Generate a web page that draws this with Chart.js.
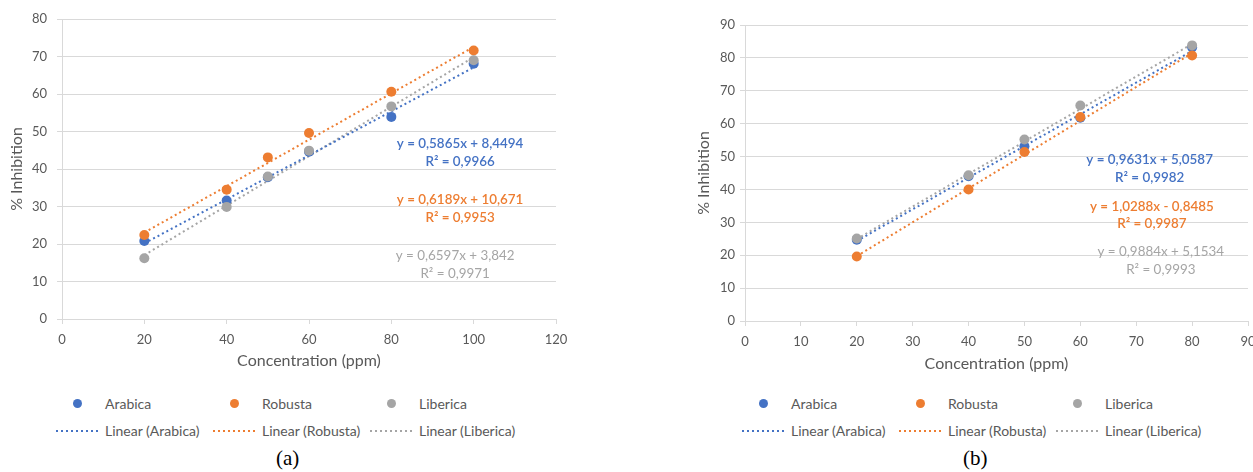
<!DOCTYPE html>
<html>
<head>
<meta charset="utf-8">
<script src="https://cdn.jsdelivr.net/npm/chart.js@4"></script>
<style>
  html, body { margin: 0; padding: 0; background: #fff; overflow: hidden; }
  body { width: 1253px; height: 472px; position: relative; font-family: Lato, sans-serif; }
  .box { position: absolute; top: 0; }
  .legend { position: absolute; color: #595959; font-size: 14px; }
  .row { display: flex; height: 27px; align-items: center; }
  .cell { display: flex; align-items: center; width: 157px; }
  .swatch { width: 43px; margin-right: 6px; display: flex; justify-content: center; align-items: center; }
  .dot { width: 9px; height: 9px; border-radius: 50%; }
  .dash { width: 43px; height: 2px; }
  .caption { position: absolute; top: 446px; font-family: "Liberation Serif", serif; font-size: 21px; color: #000; }
</style>
</head>
<body>
<div class="box" style="left:0"><canvas id="chartA"></canvas></div>
<div class="box" style="left:630px"><canvas id="chartB"></canvas></div>
<div class="legend" id="legendA" style="left:56px; top:390px"></div>
<div class="legend" id="legendB" style="left:742px; top:390px"></div>
<div class="caption" style="left:276px">(a)</div>
<div class="caption" style="left:963px">(b)</div>
<script>
// series names and colours
let names = ["Arabica", "Robusta", "Liberica"];
let colors = ["#4472C4", "#ED7D31", "#A5A5A5"];

// chart (a)
let concA = [20, 40, 50, 60, 80, 100];
let arabicaA = [20.8, 31.6, 37.8, 44.6, 53.9, 68.1];
let robustaA = [22.4, 34.5, 43.1, 49.6, 60.6, 71.6];
let libericaA = [16.2, 29.9, 38.0, 44.9, 56.7, 69.0];
let slopeA = [0.5865, 0.6189, 0.6597];
let interceptA = [8.4494, 10.671, 3.842];
let r2A = ["0,9966", "0,9953", "0,9971"];

// chart (b)
let concB = [20, 40, 50, 60, 80];
let arabicaB = [24.7, 44.0, 53.1, 61.8, 83.2];
let robustaB = [19.6, 40.0, 51.4, 62.0, 80.7];
let libericaB = [25.1, 44.3, 55.2, 65.5, 83.8];
let slopeB = [0.9631, 1.0288, 0.9884];
let interceptB = [5.0587, -0.8485, 5.1534];
let r2B = ["0,9982", "0,9987", "0,9993"];

function fmt(v) {
	return String(v).replace(".", ",");
}

function equation(s, b) {
	return "y = " + fmt(s) + "x " + (b < 0 ? "- " : "+ ") + fmt(Math.abs(b));
}

function points(xs, ys) {
	return xs.map(function(x, i) { return { x: x, y: ys[i] }; });
}

// draws the trendline equations at given spots (data units)
const eqPlugin = {
	id: "eqLabels",
	afterDatasetsDraw(chart, args, opts) {
		const ctx = chart.ctx;
		const xs = chart.scales.x, ys = chart.scales.y;
		ctx.save();
		ctx.textAlign = "center";
		ctx.textBaseline = "middle";
		opts.items.forEach(function(it) {
			ctx.fillStyle = it.color;
			ctx.font = (it.bold ? "600 " : "") + "13.4px Lato";
			ctx.fillText(it.lines[0], xs.getPixelForValue(it.x), ys.getPixelForValue(it.y1));
			ctx.fillText(it.lines[1], xs.getPixelForValue(it.x), ys.getPixelForValue(it.y2));
		});
		ctx.restore();
	}
};

function makeChart(id, w, h, conc, series, slope, intercept, r2, xmax, ymax, xstep, labelPos, lay) {
	const canvas = document.getElementById(id);
	canvas.width = w; canvas.height = h;
	canvas.style.width = w + "px"; canvas.style.height = h + "px";
	let datasets = [];
	series.forEach(function(ys, i) {
		datasets.push({
			type: "scatter",
			label: names[i],
			data: points(conc, ys),
			backgroundColor: colors[i],
			borderColor: colors[i],
			pointRadius: 5,
			pointHoverRadius: 5,
			borderWidth: 0,
			order: 3 - i
		});
	});
	series.forEach(function(ys, i) {
		const x0 = conc[0], x1 = conc[conc.length - 1];
		datasets.push({
			type: "line",
			label: "Linear (" + names[i] + ")",
			data: [{ x: x0, y: slope[i] * x0 + intercept[i] }, { x: x1, y: slope[i] * x1 + intercept[i] }],
			borderColor: colors[i],
			borderWidth: 2,
			borderDash: [2, 3],
			pointRadius: 0,
			fill: false,
			order: 10
		});
	});
	const items = labelPos.map(function(p, i) {
		return {
			x: p[0], y1: p[1], y2: p[2], color: colors[i], bold: i < 2,
			lines: [equation(slope[i], intercept[i]), "R² = " + r2[i]]
		};
	});
	return new Chart(canvas, {
		data: { datasets: datasets },
		plugins: [eqPlugin],
		options: {
			responsive: false,
			animation: false,
			layout: { padding: lay.pad },
			plugins: {
				legend: { display: false },
				tooltip: { enabled: false },
				eqLabels: { items: items }
			},
			scales: {
				x: {
					type: "linear", min: 0, max: xmax,
					ticks: { stepSize: xstep, color: "#595959", font: { family: "Lato", size: 13 }, padding: 8 },
					grid: { drawOnChartArea: false, color: "#D9D9D9", tickLength: 5 },
					border: { color: "#D9D9D9" },
					title: { display: true, text: "Concentration (ppm)", color: "#595959", font: { family: "Lato", size: 16 }, padding: { top: 0, bottom: lay.xTitlePad } },
					afterFit: function(s) { s.height = lay.xH; }
				},
				y: {
					type: "linear", min: 0, max: ymax,
					ticks: { stepSize: 10, color: "#595959", font: { family: "Lato", size: 13 }, padding: lay.yTickPad },
					grid: { color: "#D9D9D9", tickLength: 5 },
					border: { color: "#D9D9D9" },
					title: { display: true, text: "% Inhibition", color: "#595959", font: { family: "Lato", size: 16 }, padding: { top: lay.yTitlePad, bottom: 0 } },
					afterFit: function(s) { s.width = lay.yW; }
				}
			}
		}
	});
}

function makeLegend(id) {
	const el = document.getElementById(id);
	let row1 = "<div class='row'>", row2 = "<div class='row'>";
	names.forEach(function(n, i) {
		row1 += "<div class='cell'><div class='swatch'><div class='dot' style='background:" + colors[i] + "'></div></div>" + n + "</div>";
		row2 += "<div class='cell'><div class='swatch'><div class='dash' style='background:repeating-linear-gradient(90deg," + colors[i] + " 0 2px, transparent 2px 5px)'></div></div>Linear (" + n + ")</div>";
	});
	el.innerHTML = row1 + "</div>" + row2 + "</div>";
}

makeChart("chartA", 620, 380, concA, [arabicaA, robustaA, libericaA], slopeA, interceptA, r2A, 120, 80, 20,
	[[96.7, 46.7, 41.9], [96.7, 31.7, 26.9], [95.5, 16.8, 12.0]],
	{ pad: { left: 6, right: 64, top: 19, bottom: 0 }, xH: 61, xTitlePad: 10, yW: 56, yTickPad: 10, yTitlePad: 1 });

makeChart("chartB", 640, 380, concB, [arabicaB, robustaB, libericaB], slopeB, interceptB, r2B, 90, 90, 10,
	[[72.4, 49.0, 43.6], [72.8, 34.8, 29.5], [74.4, 21.1, 15.7]],
	{ pad: { left: 55, right: 22, top: 25, bottom: 0 }, xH: 59, xTitlePad: 7, yW: 60, yTickPad: 5, yTitlePad: 9 });

makeLegend("legendA");
makeLegend("legendB");
</script>
</body>
</html>
